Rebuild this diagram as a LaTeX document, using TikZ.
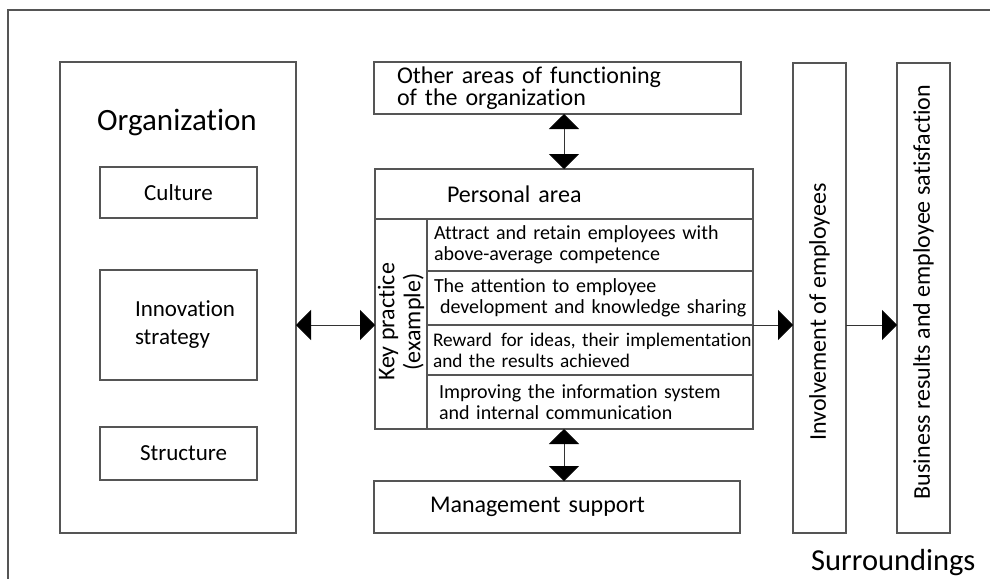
\documentclass[tikz,border=0pt]{standalone}
\usepackage{fontspec}
\setmainfont{Carlito}[Ligatures=NoCommon]
\usetikzlibrary{positioning, arrows.meta}
\definecolor{boxline}{RGB}{85,85,85}
\frenchspacing

\tikzset{
  box/.style={draw=boxline, line width=1.2pt, outer sep=0pt, inner ysep=0pt},
  rowbox/.style={box, minimum height=#1, text width=312pt, inner xsep=7pt,
    align=left, font=\fontsize{20}{21}\selectfont},
  biarrow/.style={line width=0.9pt, draw=black!80,
    {Triangle[width=30pt, length=15pt, color=black]}-{Triangle[width=30pt, length=15pt, color=black]}},
  onearrow/.style={line width=0.9pt, draw=black!80, -{Triangle[width=30pt, length=15pt, color=black]}},
  label/.style={font=\fontsize{24}{24}\selectfont, inner sep=0pt}
}

\begin{document}
\begin{tikzpicture}[x=1pt, y=-1pt]
\useasboundingbox (0,0) rectangle (990,579);
% surroundings frame
\draw[boxline, line width=1.2pt] (990,10) -- (8,10) -- (8,579);
\node[label, font=\fontsize{30.5}{30}\selectfont, anchor=west] (surr) at (811,563) {Surroundings};

% organization
\node[box, anchor=north west, minimum width=236pt, minimum height=471pt] (org) at (60,62) {};
\node[label, font=\fontsize{31}{31}\selectfont] (orgtitle) at (177,122) {Organization};
\node[box, anchor=north west, minimum width=157pt, minimum height=51pt,
  font=\fontsize{23}{23}\selectfont] (cult) at (100,167) {Culture};
\node[box, anchor=north west, minimum width=157pt, minimum height=110pt, inner xsep=35pt,
  text width=87pt, align=left, font=\fontsize{23}{28}\selectfont] (innov) at (100,270) {Innovation\\strategy};
\node[box, anchor=north west, minimum width=157pt, minimum height=53pt, inner xsep=40pt,
  text width=77pt, align=left, font=\fontsize{23}{23}\selectfont] (struct) at (100,427) {Structure};

% other areas
\node[box, anchor=north west, minimum height=52pt, inner xsep=23pt, text width=321pt,
  align=left, font=\fontsize{24}{20}\selectfont] (other) at (374,62) {Other areas of functioning\\of the organization};

% personal area
\node[box, anchor=north west, minimum height=50pt, inner xsep=72pt, text width=234pt,
  align=left, font=\fontsize{24}{24}\selectfont] (pers) at (375,169) {Personal area};
\node[box, anchor=north west, minimum width=52pt, minimum height=210pt] (kpcol) at (375,219) {};
\node[rowbox=52pt, anchor=north west] (row1) at (427,219) {Attract and retain employees with\\above-average competence};
\node[rowbox=54pt, below=0pt of row1] (row2) {The attention to employee\\\hspace*{6pt}\mbox{development and knowledge sharing}};
\node[rowbox=50pt, below=0pt of row2, inner xsep=6pt, text width=314pt,
  font=\fontsize{19.3}{21}\selectfont] (row3) {\mbox{Reward\hspace{9pt}for ideas, their implementation}\\and the results achieved};
\node[rowbox=54pt, below=0pt of row3, inner xsep=12pt, text width=302pt] (row4) {Improving the information system\\and internal communication};
\node[label, rotate=90, align=center, font=\fontsize{24}{26}\selectfont] (kp) at (kpcol.center |- 0,322) {Key practice\\(example)};

% management support
\node[box, anchor=north west, minimum height=52pt, inner xsep=56pt, text width=254pt,
  align=left, font=\fontsize{24}{24}\selectfont] (mgmt) at (374,481) {Management support};

% involvement and results
\node[box, anchor=north west, minimum width=53pt, minimum height=470pt] (inv) at (793,63) {};
\node[label, rotate=90] (invtext) at (819.5,312) {Involvement of employees};
\node[box, anchor=north west, minimum width=53pt, minimum height=470pt] (res) at (897,63) {};
\node[label, rotate=90] (restext) at (923.5,292) {Business results and employee satisfaction};

% connectors
\coordinate (midrow) at (0,325);
\draw[biarrow] (org.east |- midrow) -- (kpcol.west |- midrow);
\draw[onearrow] (row2.south east) -- (inv.west |- midrow);
\draw[onearrow] (inv.east |- midrow) -- (res.west |- midrow);
\draw[biarrow] (other.south -| pers.north) -- (pers.north);
\draw[biarrow] (kpcol.south -| pers.south) -- (mgmt.north -| pers.south);
\end{tikzpicture}
\end{document}
